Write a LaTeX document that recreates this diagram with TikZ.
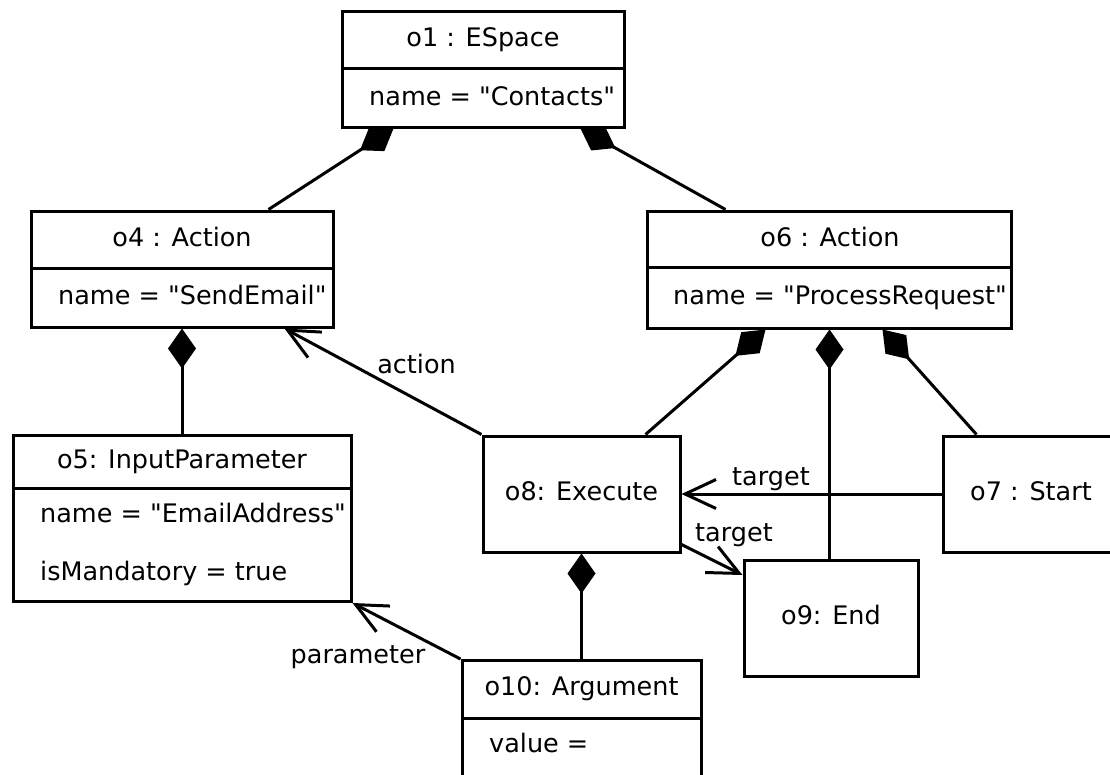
\documentclass[tikz,border=0pt]{standalone}
\usepackage{fontspec}
\setmainfont{DejaVu Sans}[Ligatures=TeXOff]
\usetikzlibrary{arrows.meta,calc}
\begin{document}
\begin{tikzpicture}[x=1pt,y=1pt,
  every node/.style={font=\fontsize{25.5}{30}\selectfont},
  obj/.style={draw,fill=white,line width=3pt,inner sep=0pt},
  txt/.style={inner sep=0pt,anchor=base},
  attr/.style={inner sep=0pt,anchor=base west},
  rule/.style={line width=3pt},
  link/.style={line width=3pt},
  comp/.style={link,-{Diamond[length=40pt,width=28pt]}},
  nav/.style={link,-{Straight Barb[length=31pt,width=29pt]}},
  lbl/.style={inner sep=0pt,anchor=base}]
\useasboundingbox (0,0) rectangle (1110,-774);

% object boxes
\node[obj,minimum width=282,minimum height=116] (o1) at (483,-69) {};
\node[obj,minimum width=302,minimum height=116] (o4) at (182,-269) {};
\node[obj,minimum width=364,minimum height=117] (o6) at (829,-269.5) {};
\node[obj,minimum width=338,minimum height=166] (o5) at (182,-518.5) {};
\node[obj,minimum width=197,minimum height=116] (o8) at (581.5,-494) {};
\node[obj,minimum width=176,minimum height=116] (o7) at (1031,-494) {};
\node[obj,minimum width=174,minimum height=116] (o9) at (831,-618.5) {};
\node[obj,minimum width=239,minimum height=140] (o10) at (581.5,-730.5) {};

% compartment dividers
\draw[rule] ($(o1.north west)+(0,-59)$) -- ($(o1.north east)+(0,-59)$);
\draw[rule] ($(o4.north west)+(0,-59)$) -- ($(o4.north east)+(0,-59)$);
\draw[rule] ($(o6.north west)+(0,-58)$) -- ($(o6.north east)+(0,-58)$);
\draw[rule] ($(o5.north west)+(0,-54)$) -- ($(o5.north east)+(0,-54)$);
\draw[rule] ($(o10.north west)+(0,-59)$) -- ($(o10.north east)+(0,-59)$);

% texts
\node[txt] (t1) at (483,-46.7) {o1 : ESpace};
\node[attr] (a1) at (369,-105) {name = "Contacts"};
\node[txt] (t4) at (182,-246.7) {o4 : Action};
\node[attr] (a4) at (58,-304) {name = "SendEmail"};
\node[txt] (t6) at (830,-246.7) {o6 : Action};
\node[attr] (a6) at (673,-304) {name = "ProcessRequest"};
\node[txt] (t5) at (182,-468) {o5: InputParameter};
\node[attr] (a5a) at (40,-522.7) {name = "EmailAddress"};
\node[attr] (a5b) at (40,-580) {isMandatory = true};
\node[txt] (t8) at (581.5,-500) {o8: Execute};
\node[txt] (t7) at (1031,-500) {o7 : Start};
\node[txt] (t9) at (831,-624) {o9: End};
\node[txt] (t10) at (581.5,-695) {o10: Argument};
\node[attr] (a10) at (489,-752.7) {value =};

% composition links
\draw[comp] ($(o4.north west)+(239,0)$) -- ($(o1.south west)+(53,0)$);
\draw[comp] ($(o6.north west)+(80,0)$) -- ($(o1.south west)+(240,0)$);
\draw[comp] (o5.north) -- (o4.south);
\draw[comp] ($(o8.north west)+(164,0)$) -- ($(o6.south west)+(120,0)$);
\draw[comp] ($(o9.north west)+(87,0)$) -- ($(o6.south west)+(184,0)$);
\draw[comp] ($(o7.north west)+(35,0)$) -- ($(o6.south west)+(237,0)$);
\draw[comp] (o10.north) -- (o8.south);

% navigable references
\draw[nav] (o8.north west) -- ($(o4.south west)+(255,0)$);
\draw[nav] (o10.north west) -- (o5.south east);
\draw[nav] (o7.west) -- (o8.east);
\draw[nav] ($(o8.south east)+(0,9)$) -- ($(o9.north west)+(0,-16)$);

% reference labels
\node[lbl] (l1) at (416.5,-373) {action};
\node[lbl] (l2) at (358,-663) {parameter};
\node[lbl] (l3) at (771,-485) {target};
\node[lbl] (l4) at (734,-541.7) {target};
\end{tikzpicture}
\end{document}
